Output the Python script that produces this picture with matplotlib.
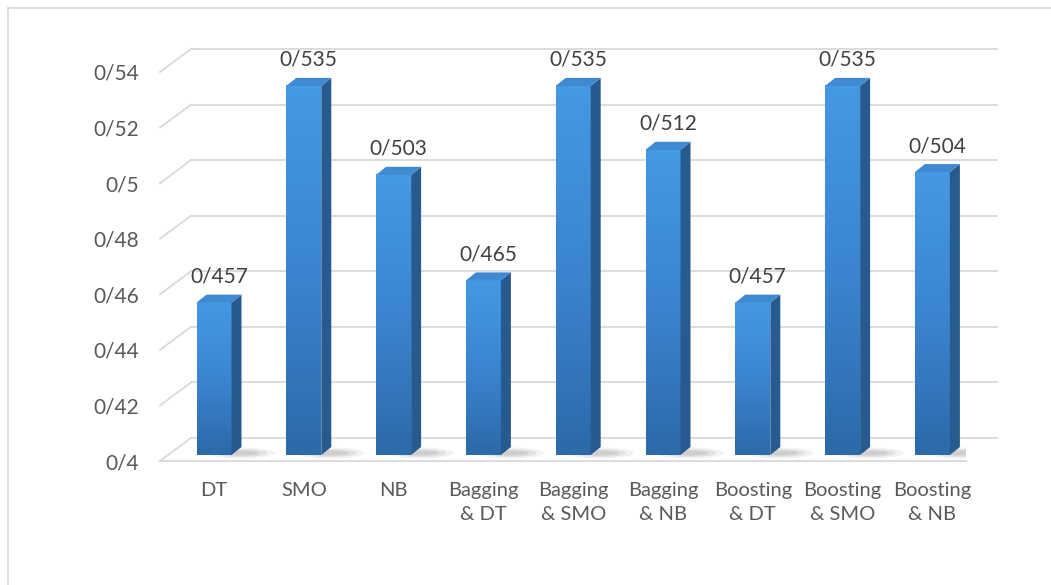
import numpy as np
import matplotlib.pyplot as plt
from matplotlib.patches import Polygon, Ellipse
from matplotlib.lines import Line2D
from matplotlib.colors import LinearSegmentedColormap

categories = ["DT", "SMO", "NB", "Bagging\n& DT", "Bagging\n& SMO", "Bagging\n& NB",
              "Boosting\n& DT", "Boosting\n& SMO", "Boosting\n& NB"]
values = [0.457, 0.535, 0.503, 0.465, 0.535, 0.512, 0.457, 0.535, 0.504]
value_labels = ["0/457", "0/535", "0/503", "0/465", "0/535", "0/512", "0/457", "0/535", "0/504"]
yticks = [0.40, 0.42, 0.44, 0.46, 0.48, 0.50, 0.52, 0.54]
ytick_labels = ["0/4", "0/42", "0/44", "0/46", "0/48", "0/5", "0/52", "0/54"]

W, H = 1051, 585
fig = plt.figure(figsize=(W / 100, H / 100), dpi=100)
fig.patch.set_facecolor("white")

# outer chart border
fig.add_artist(Line2D([8 / W, 1.0], [1 - 8 / H, 1 - 8 / H], color="#d9d9d9", lw=1.2))
fig.add_artist(Line2D([8 / W, 8 / W], [0, 1 - 8 / H], color="#d9d9d9", lw=1.2))

# plot area in pixels (front plane)
left_px, right_px, top_px, bot_px = 160, 966, 72, 461
ax = fig.add_axes([left_px / W, 1 - bot_px / H, (right_px - left_px) / W, (bot_px - top_px) / H])
x0_px, step_px = 214, 89.8
xlim = ((left_px - x0_px) / step_px, (right_px - x0_px) / step_px)
ylim = (0.40, 0.54)
ax.set_xlim(*xlim)
ax.set_ylim(*ylim)
for s in ax.spines.values():
    s.set_visible(False)

xu = step_px                      # px per x unit
yu = (bot_px - top_px) / 0.14     # px per y unit

# back wall and floor
dxw, dyw = 31 / xu, 23 / yu
grid_c = "#d9d9d9"
for v in yticks:
    ax.plot([xlim[0] + dxw, xlim[1] + dxw], [v + dyw, v + dyw], color=grid_c, lw=1.3,
            clip_on=False, zorder=1)
    ax.plot([xlim[0], xlim[0] + dxw], [v, v + dyw], color=grid_c, lw=1.3, clip_on=False, zorder=1)
ax.plot([xlim[0], xlim[1]], [0.40, 0.40], color=grid_c, lw=1.3, clip_on=False, zorder=1)

# 3d columns
x = np.arange(len(values))
bw = 35 / xu
dxb, dyb = 10 / xu, 8 / yu
base = 0.40 + 6 / yu
grad = np.linspace(0, 1, 64).reshape(-1, 1)
front_cmap = LinearSegmentedColormap.from_list("front", ["#2c6aa9", "#3b85d0", "#4598e2"])

for xi, v, lab in zip(x, values, value_labels):
    # soft floor shadow
    for k, a in enumerate([0.07, 0.10, 0.13]):
        ax.add_patch(Ellipse((xi + 0.3, base + 2 / yu), 0.75 - 0.17 * k, (11 - 3 * k) / yu,
                             color="#505050", alpha=a, lw=0, zorder=2))
    # front face
    ax.imshow(grad, extent=(xi - bw / 2, xi + bw / 2, base, v), origin="lower",
              cmap=front_cmap, aspect="auto", zorder=3)
    # side face
    ax.add_patch(Polygon([(xi + bw / 2, base), (xi + bw / 2 + dxb, base + dyb),
                          (xi + bw / 2 + dxb, v + dyb), (xi + bw / 2, v)],
                         closed=True, facecolor="#275b8f", edgecolor="none", zorder=3))
    # top face
    ax.add_patch(Polygon([(xi - bw / 2, v), (xi + bw / 2, v), (xi + bw / 2 + dxb, v + dyb),
                          (xi - bw / 2 + dxb, v + dyb)],
                         closed=True, facecolor="#3f8ad3", edgecolor="none", zorder=3))
    ax.text(xi + dxb / 2, v + dyb + 8 / yu, lab, ha="center", va="bottom",
            fontsize=15, family="Lato", color="#404040", zorder=4)

ax.set_xlim(*xlim)
ax.set_ylim(*ylim)
ax.set_yticks(yticks)
ax.set_yticklabels(ytick_labels, family="Lato", fontsize=15, color="#595959")
ax.set_xticks(x)
ax.set_xticklabels(categories, family="Lato", fontsize=14.5, color="#595959", linespacing=1.5)
ax.tick_params(axis="y", length=0, pad=15)
ax.tick_params(axis="x", length=0, pad=15)

fig.savefig("out.png", dpi=100, facecolor="white")
